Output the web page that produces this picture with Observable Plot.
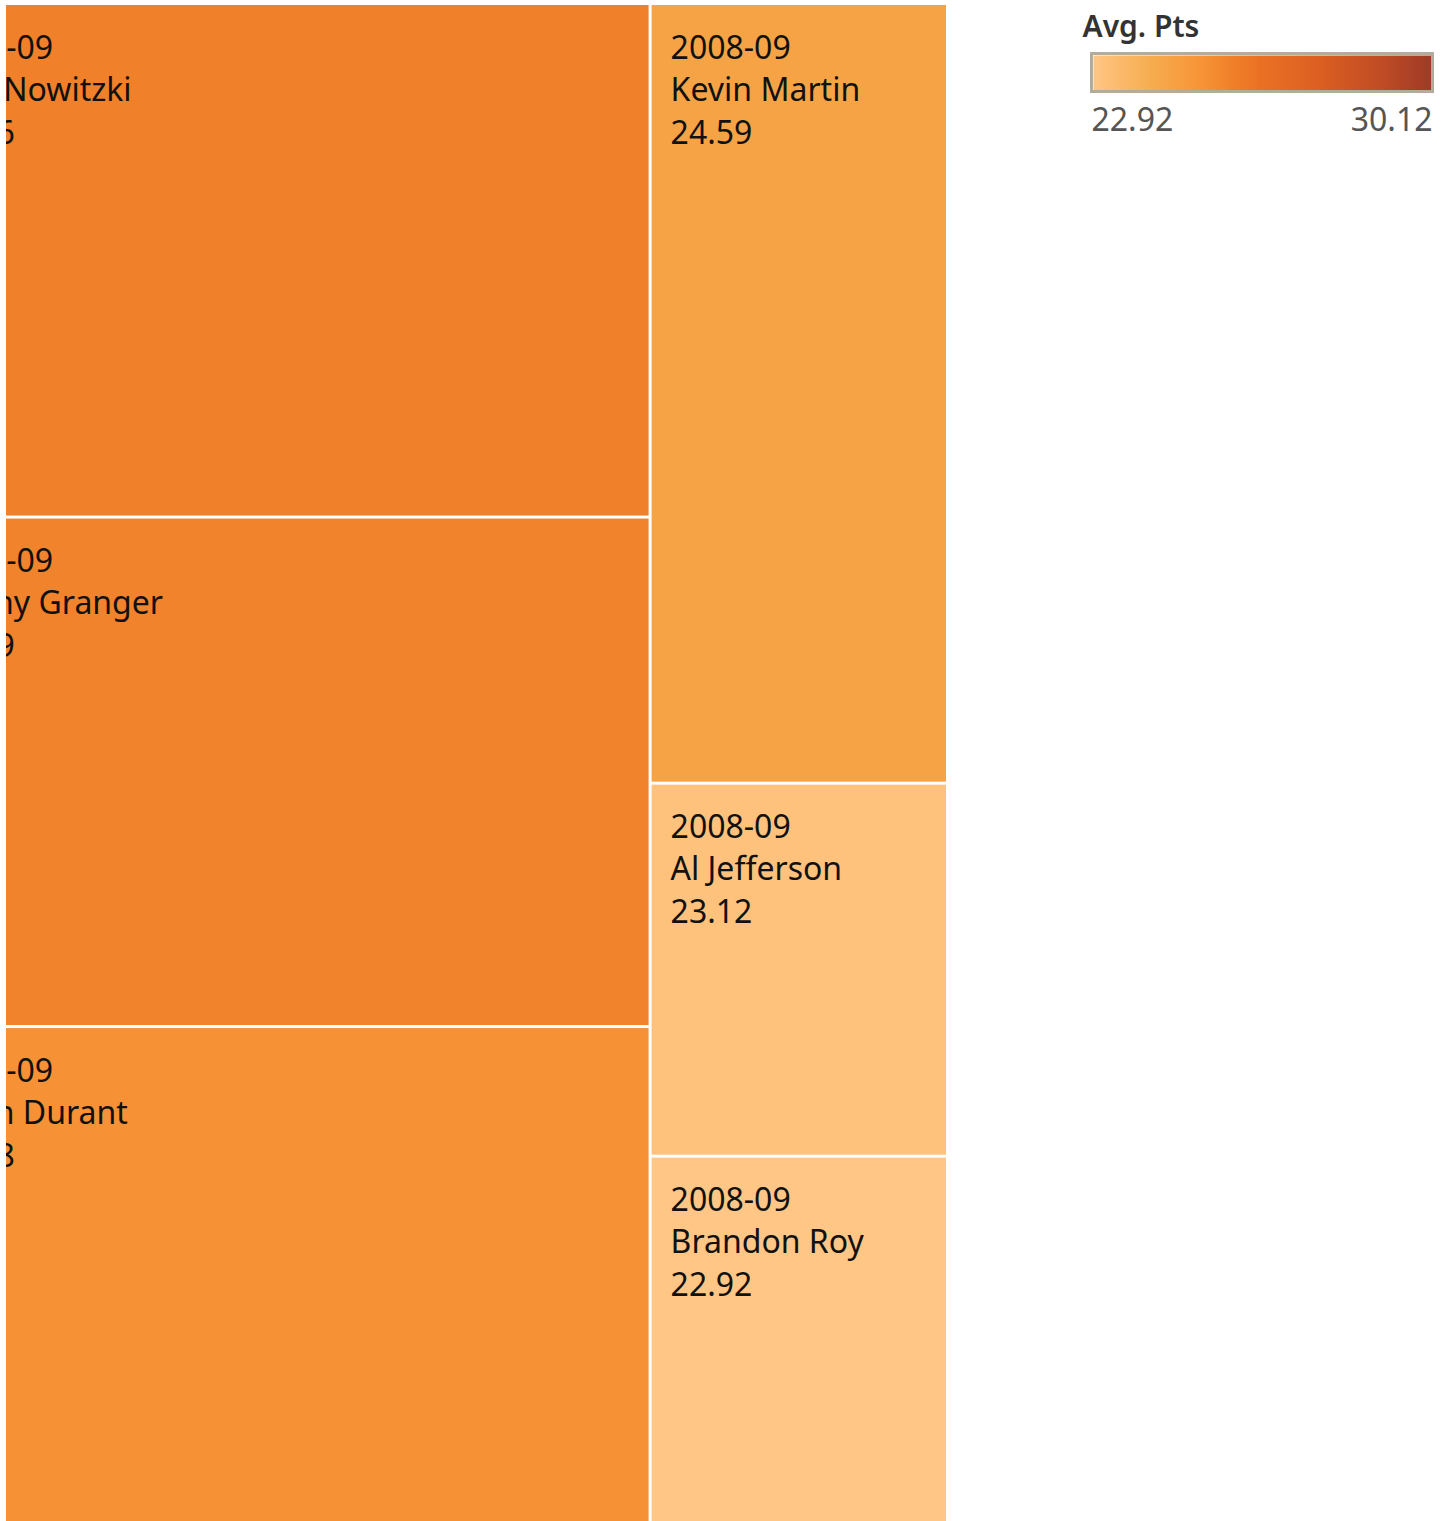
<!DOCTYPE html>
<html>
<head>
<meta charset="utf-8">
<script src="https://cdn.jsdelivr.net/npm/d3@7"></script>
<script src="https://cdn.jsdelivr.net/npm/@observablehq/plot@0.6"></script>
<style>
  html, body { margin: 0; padding: 0; background: #fff; }
  #wrap { position: relative; width: 1449px; height: 1521px; overflow: hidden; }
  #legend { position: absolute; left: 1070px; top: 0px; }
  #main { position: absolute; left: 0; top: 0; }
</style>
</head>
<body>
<div id="wrap"><div id="main"></div><div id="legend"></div></div>
<script>
// ---- data ----
const seasons = ["2008-09", "2008-09", "2008-09", "2008-09", "2008-09", "2008-09"];
const players = ["Dirk Nowitzki", "Danny Granger", "Kevin Durant", "Kevin Martin", "Al Jefferson", "Brandon Roy"];
const avgPts = [25.86, 25.79, 25.28, 24.59, 23.12, 22.92];
const sizeValues = [379, 376, 366, 232, 111, 109];   // treemap size measure (estimated from areas)
const columnOf = [0, 0, 0, 1, 1, 1];
const legendDomain = [22.92, 30.12];
const legendTitle = "Avg. Pts";

// colour ramp (Tableau-like orange)
const rampT = [0, 0.17, 0.33, 0.41, 0.5, 0.67, 0.85, 1];
const rampColors = ["#ffc685", "#f6ad4f", "#f69235", "#f0802a", "#ea7024", "#dc5f22", "#c04c25", "#9e3a26"];
const colorScale = {
  type: "linear",
  domain: rampT.map(t => legendDomain[0] + t * (legendDomain[1] - legendDomain[0])),
  range: rampColors,
  interpolate: "rgb"
};

// ---- treemap layout ----
const rows = players.map((p, i) => ({season: seasons[i], player: p, avg: avgPts[i], size: sizeValues[i], col: columnOf[i]}));
const cols = d3.groups(rows, d => d.col).map(([c, children]) => ({children}));
const root = d3.hierarchy({children: cols}).sum(d => d.size || 0);
d3.treemap().tile(d3.treemapSliceDice).size([1, 1]).round(false)(root);
const leaves = root.leaves().map(n => ({...n.data, x0: n.x0, x1: n.x1, y0: n.y0, y1: n.y1}));

const font = "'Noto Sans', 'Open Sans', sans-serif";
const textOpts = (field, dy) => ({
  x: "x0", y: "y0", text: field, dx: 20, dy,
  textAnchor: "start", lineAnchor: "bottom",
  fontSize: 32, fill: "#111", fontFamily: font, clip: true
});

const main = Plot.plot({
  width: 1449, height: 1521,
  marginLeft: 6, marginTop: 5, marginRight: 0, marginBottom: 0,
  x: {domain: [0, 1], range: [-87.5, 947.5], axis: null},
  y: {domain: [0, 1], range: [3.5, 1522.5], axis: null},
  color: colorScale,
  style: {fontFamily: font, background: "#fff"},
  marks: [
    Plot.rect(leaves, {x1: "x0", x2: "x1", y1: "y0", y2: "y1", fill: "avg", inset: 1.5, clip: true}),
    Plot.text(leaves, textOpts("season", 54.8)),
    Plot.text(leaves, textOpts("player", 96.5)),
    Plot.text(leaves, textOpts(d => d.avg.toFixed(2), 139.8))
  ]
});
document.getElementById("main").appendChild(main);

// ---- legend ----
const legend = Plot.plot({
  width: 379, height: 150,
  marginLeft: 0, marginRight: 0, marginTop: 0, marginBottom: 0,
  x: {domain: legendDomain, range: [23, 361], axis: null},
  y: {domain: [0, 1], range: [55, 90], axis: null},
  color: colorScale,
  style: {fontFamily: font, background: "transparent", overflow: "visible"},
  marks: [
    Plot.raster({fill: (x, y) => x, x1: legendDomain[0], x2: legendDomain[1], y1: 0, y2: 1, width: 338, height: 1, imageRendering: "auto"}),
    Plot.rect([0], {x1: () => legendDomain[0], x2: () => legendDomain[1], y1: () => 0, y2: () => 1, fill: "none", stroke: "#b2ac9d", strokeWidth: 3, inset: -1.5}),
    Plot.text([legendTitle], {x: () => legendDomain[0], y: () => 0, text: d => d, dx: -11, dy: -19, textAnchor: "start", lineAnchor: "bottom", fontSize: 30, fontWeight: 600, fill: "#333"}),
    Plot.text([legendDomain[0]], {x: d => d, y: () => 1, text: d => d.toFixed(2), dx: -2, dy: 40.5, textAnchor: "start", lineAnchor: "bottom", fontSize: 32, fill: "#555"}),
    Plot.text([legendDomain[1]], {x: d => d, y: () => 1, text: d => d.toFixed(2), dx: 1, dy: 40.5, textAnchor: "end", lineAnchor: "bottom", fontSize: 32, fill: "#555"})
  ]
});
document.getElementById("legend").appendChild(legend);
</script>
</body>
</html>
